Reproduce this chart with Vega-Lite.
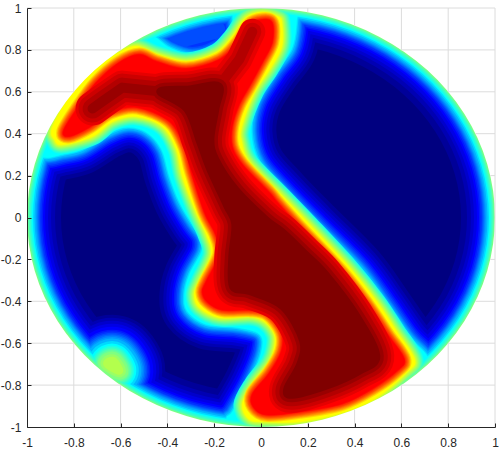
{"$schema":"https://vega.github.io/schema/vega-lite/v6.json","width":468,"height":419,"autosize":{"type":"none"},"padding":{"left":27,"top":8,"right":5,"bottom":23},"background":"white",
"config":{"view":{"stroke":null},"line":{"strokeJoin":"round","strokeCap":"round","interpolate":"cardinal-closed","tension":0}},
"datasets":{
"disk":[{"i":0,"x":1,"y":0},{"i":1,"x":0.9659,"y":0.2588},{"i":2,"x":0.866,"y":0.5},{"i":3,"x":0.7071,"y":0.7071},{"i":4,"x":0.5,"y":0.866},{"i":5,"x":0.2588,"y":0.9659},{"i":6,"x":0,"y":1},{"i":7,"x":-0.2588,"y":0.9659},{"i":8,"x":-0.5,"y":0.866},{"i":9,"x":-0.7071,"y":0.7071},{"i":10,"x":-0.866,"y":0.5},{"i":11,"x":-0.9659,"y":0.2588},{"i":12,"x":-1,"y":0},{"i":13,"x":-0.9659,"y":-0.2588},{"i":14,"x":-0.866,"y":-0.5},{"i":15,"x":-0.7071,"y":-0.7071},{"i":16,"x":-0.5,"y":-0.866},{"i":17,"x":-0.2588,"y":-0.9659},{"i":18,"x":0,"y":-1},{"i":19,"x":0.2588,"y":-0.9659},{"i":20,"x":0.5,"y":-0.866},{"i":21,"x":0.7071,"y":-0.7071},{"i":22,"x":0.866,"y":-0.5},{"i":23,"x":0.9659,"y":-0.2588}],
"outer":[{"i":0,"x":1.1282,"y":0},{"i":1,"x":1.0897,"y":0.2959},{"i":2,"x":0.977,"y":0.5716},{"i":3,"x":0.7978,"y":0.8084},{"i":4,"x":0.5641,"y":0.99},{"i":5,"x":0.292,"y":1.1042},{"i":6,"x":0,"y":1.1432},{"i":7,"x":-0.292,"y":1.1042},{"i":8,"x":-0.5641,"y":0.99},{"i":9,"x":-0.7978,"y":0.8084},{"i":10,"x":-0.977,"y":0.5716},{"i":11,"x":-1.0897,"y":0.2959},{"i":12,"x":-1.1282,"y":0},{"i":13,"x":-1.0897,"y":-0.2959},{"i":14,"x":-0.977,"y":-0.5716},{"i":15,"x":-0.7978,"y":-0.8084},{"i":16,"x":-0.5641,"y":-0.99},{"i":17,"x":-0.292,"y":-1.1042},{"i":18,"x":0,"y":-1.1432},{"i":19,"x":0.292,"y":-1.1042},{"i":20,"x":0.5641,"y":-0.99},{"i":21,"x":0.7978,"y":-0.8084},{"i":22,"x":0.977,"y":-0.5716},{"i":23,"x":1.0897,"y":-0.2959}],
"cyan":[{"i":0,"x":-0.925,"y":0.286},{"i":1,"x":-0.848,"y":0.301},{"i":2,"x":-0.763,"y":0.325},{"i":3,"x":-0.66,"y":0.396},{"i":4,"x":-0.575,"y":0.43},{"i":5,"x":-0.489,"y":0.406},{"i":6,"x":-0.425,"y":0.325},{"i":7,"x":-0.391,"y":0.196},{"i":8,"x":-0.348,"y":0.072},{"i":9,"x":-0.293,"y":-0.033},{"i":10,"x":-0.254,"y":-0.095},{"i":11,"x":-0.254,"y":-0.162},{"i":12,"x":-0.306,"y":-0.272},{"i":13,"x":-0.327,"y":-0.368},{"i":14,"x":-0.314,"y":-0.449},{"i":15,"x":-0.233,"y":-0.511},{"i":16,"x":-0.105,"y":-0.525},{"i":17,"x":-0.006,"y":-0.558},{"i":18,"x":0.002,"y":-0.64},{"i":19,"x":-0.049,"y":-0.783},{"i":20,"x":-0.122,"y":-0.926},{"i":21,"x":-0.147,"y":-0.964},{"i":22,"x":-0.113,"y":-1.084},{"i":23,"x":0.165,"y":-1.084},{"i":24,"x":0.464,"y":-1.012},{"i":25,"x":0.763,"y":-0.797},{"i":26,"x":0.712,"y":-0.663},{"i":27,"x":0.635,"y":-0.573},{"i":28,"x":0.536,"y":-0.415},{"i":29,"x":0.421,"y":-0.239},{"i":30,"x":0.237,"y":-0.033},{"i":31,"x":0.1,"y":0.124},{"i":32,"x":-0.006,"y":0.263},{"i":33,"x":-0.041,"y":0.406},{"i":34,"x":-0.019,"y":0.549},{"i":35,"x":0.058,"y":0.692},{"i":36,"x":0.13,"y":0.802},{"i":37,"x":0.152,"y":0.931},{"i":38,"x":0.143,"y":1.017},{"i":39,"x":-0.006,"y":1.064},{"i":40,"x":-0.113,"y":0.993},{"i":41,"x":-0.122,"y":0.883},{"i":42,"x":-0.19,"y":0.811},{"i":43,"x":-0.293,"y":0.778},{"i":44,"x":-0.391,"y":0.811},{"i":45,"x":-0.455,"y":0.864},{"i":46,"x":-0.519,"y":0.897},{"i":47,"x":-0.733,"y":0.754},{"i":48,"x":-0.904,"y":0.492},{"i":49,"x":-0.989,"y":0.325}],
"yellow":[{"i":0,"x":-0.891,"y":0.43},{"i":1,"x":-0.806,"y":0.597},{"i":2,"x":-0.703,"y":0.716},{"i":3,"x":-0.605,"y":0.788},{"i":4,"x":-0.532,"y":0.816},{"i":5,"x":-0.447,"y":0.778},{"i":6,"x":-0.318,"y":0.745},{"i":7,"x":-0.19,"y":0.788},{"i":8,"x":-0.122,"y":0.864},{"i":9,"x":-0.062,"y":0.955},{"i":10,"x":0.006,"y":0.979},{"i":11,"x":0.071,"y":0.959},{"i":12,"x":0.088,"y":0.931},{"i":13,"x":0.088,"y":0.816},{"i":14,"x":0.036,"y":0.706},{"i":15,"x":-0.028,"y":0.597},{"i":16,"x":-0.083,"y":0.434},{"i":17,"x":-0.083,"y":0.358},{"i":18,"x":-0.049,"y":0.263},{"i":19,"x":0.092,"y":0.1},{"i":20,"x":0.207,"y":-0.033},{"i":21,"x":0.378,"y":-0.239},{"i":22,"x":0.494,"y":-0.401},{"i":23,"x":0.579,"y":-0.544},{"i":24,"x":0.656,"y":-0.678},{"i":25,"x":0.622,"y":-0.74},{"i":26,"x":0.494,"y":-0.859},{"i":27,"x":0.348,"y":-0.931},{"i":28,"x":0.165,"y":-0.974},{"i":29,"x":0.024,"y":-0.974},{"i":30,"x":-0.049,"y":-0.964},{"i":31,"x":-0.079,"y":-0.893},{"i":32,"x":-0.036,"y":-0.797},{"i":33,"x":0.036,"y":-0.692},{"i":34,"x":0.058,"y":-0.621},{"i":35,"x":0.058,"y":-0.558},{"i":36,"x":0.015,"y":-0.496},{"i":37,"x":-0.049,"y":-0.473},{"i":38,"x":-0.177,"y":-0.477},{"i":39,"x":-0.263,"y":-0.43},{"i":40,"x":-0.284,"y":-0.368},{"i":41,"x":-0.263,"y":-0.305},{"i":42,"x":-0.212,"y":-0.177},{"i":43,"x":-0.233,"y":-0.081},{"i":44,"x":-0.276,"y":0.024},{"i":45,"x":-0.335,"y":0.196},{"i":46,"x":-0.361,"y":0.325},{"i":47,"x":-0.421,"y":0.434},{"i":48,"x":-0.532,"y":0.482},{"i":49,"x":-0.635,"y":0.458},{"i":50,"x":-0.72,"y":0.387},{"i":51,"x":-0.848,"y":0.348},{"i":52,"x":-0.882,"y":0.372}],
"red":[{"i":0,"x":-0.845,"y":0.411},{"i":1,"x":-0.789,"y":0.516},{"i":2,"x":-0.704,"y":0.645},{"i":3,"x":-0.606,"y":0.74},{"i":4,"x":-0.52,"y":0.778},{"i":5,"x":-0.447,"y":0.745},{"i":6,"x":-0.319,"y":0.711},{"i":7,"x":-0.178,"y":0.754},{"i":8,"x":-0.101,"y":0.835},{"i":9,"x":-0.05,"y":0.921},{"i":10,"x":0.006,"y":0.945},{"i":11,"x":0.048,"y":0.93},{"i":12,"x":0.048,"y":0.835},{"i":13,"x":0.006,"y":0.74},{"i":14,"x":-0.05,"y":0.625},{"i":15,"x":-0.093,"y":0.539},{"i":16,"x":-0.123,"y":0.435},{"i":17,"x":-0.123,"y":0.34},{"i":18,"x":-0.08,"y":0.254},{"i":19,"x":0.035,"y":0.121},{"i":20,"x":0.07,"y":0.073},{"i":21,"x":0.155,"y":-0.032},{"i":22,"x":0.343,"y":-0.256},{"i":23,"x":0.454,"y":-0.413},{"i":24,"x":0.54,"y":-0.556},{"i":25,"x":0.612,"y":-0.675},{"i":26,"x":0.582,"y":-0.732},{"i":27,"x":0.476,"y":-0.818},{"i":28,"x":0.347,"y":-0.889},{"i":29,"x":0.164,"y":-0.928},{"i":30,"x":0.023,"y":-0.942},{"i":31,"x":-0.033,"y":-0.904},{"i":32,"x":-0.037,"y":-0.842},{"i":33,"x":0.035,"y":-0.742},{"i":34,"x":0.087,"y":-0.637},{"i":35,"x":0.087,"y":-0.546},{"i":36,"x":0.027,"y":-0.461},{"i":37,"x":-0.05,"y":-0.442},{"i":38,"x":-0.165,"y":-0.442},{"i":39,"x":-0.229,"y":-0.404},{"i":40,"x":-0.251,"y":-0.356},{"i":41,"x":-0.234,"y":-0.304},{"i":42,"x":-0.178,"y":-0.175},{"i":43,"x":-0.195,"y":-0.08},{"i":45,"x":-0.242,"y":0.025},{"i":46,"x":-0.298,"y":0.216},{"i":47,"x":-0.328,"y":0.34},{"i":48,"x":-0.392,"y":0.459},{"i":49,"x":-0.529,"y":0.525},{"i":50,"x":-0.64,"y":0.502},{"i":51,"x":-0.734,"y":0.43},{"i":52,"x":-0.819,"y":0.387}],
"core":[{"i":0,"x":-0.435,"y":0.602},{"i":1,"x":-0.306,"y":0.616},{"i":2,"x":-0.178,"y":0.63},{"i":3,"x":-0.191,"y":0.516},{"i":4,"x":-0.212,"y":0.373},{"i":5,"x":-0.191,"y":0.278},{"i":6,"x":-0.106,"y":0.135},{"i":7,"x":0.023,"y":-0.008},{"i":8,"x":0.091,"y":-0.065},{"i":9,"x":0.185,"y":-0.165},{"i":10,"x":0.279,"y":-0.27},{"i":11,"x":0.407,"y":-0.461},{"i":12,"x":0.497,"y":-0.661},{"i":13,"x":0.42,"y":-0.737},{"i":14,"x":0.279,"y":-0.808},{"i":15,"x":0.134,"y":-0.851},{"i":16,"x":0.108,"y":-0.818},{"i":17,"x":0.164,"y":-0.699},{"i":18,"x":0.176,"y":-0.589},{"i":19,"x":0.091,"y":-0.427},{"i":20,"x":-0.05,"y":-0.356},{"i":21,"x":-0.123,"y":-0.332},{"i":22,"x":-0.127,"y":-0.189},{"i":23,"x":-0.114,"y":-0.032},{"i":24,"x":-0.148,"y":0.054},{"i":25,"x":-0.221,"y":0.23},{"i":26,"x":-0.264,"y":0.359},{"i":27,"x":-0.319,"y":0.516}],
"arm":[{"i":0,"x":-0.72,"y":0.52},{"i":1,"x":-0.67,"y":0.56},{"i":2,"x":-0.593,"y":0.62},{"i":3,"x":-0.435,"y":0.602}],
"neck":[{"i":0,"x":-0.178,"y":0.63},{"i":1,"x":-0.093,"y":0.754},{"i":2,"x":-0.037,"y":0.887}],
"blob":[{"i":0,"x":-0.657,"y":-0.699},{"i":1,"x":-0.631,"y":-0.685},{"i":2,"x":-0.606,"y":-0.732}],
"cap":[{"i":0,"x":-0.358,"y":0.849},{"i":1,"x":-0.191,"y":0.897}],
"gridv":[{"x":-0.8,"y":0.6,"y2":1},{"x":-0.8,"y":-0.6,"y2":-1},{"x":-0.6,"y":0.8,"y2":1},{"x":-0.6,"y":-0.8,"y2":-1},{"x":-0.4,"y":0.9165,"y2":1},{"x":-0.4,"y":-0.9165,"y2":-1},{"x":-0.2,"y":0.98,"y2":1},{"x":-0.2,"y":-0.98,"y2":-1},{"x":0.2,"y":0.98,"y2":1},{"x":0.2,"y":-0.98,"y2":-1},{"x":0.4,"y":0.9165,"y2":1},{"x":0.4,"y":-0.9165,"y2":-1},{"x":0.6,"y":0.8,"y2":1},{"x":0.6,"y":-0.8,"y2":-1},{"x":0.8,"y":0.6,"y2":1},{"x":0.8,"y":-0.6,"y2":-1},{"x":1,"y":-1,"y2":1}],
"gridh":[{"y":0.8,"x":-1,"x2":-0.6},{"y":0.8,"x":0.6,"x2":1},{"y":0.6,"x":-1,"x2":-0.8},{"y":0.6,"x":0.8,"x2":1},{"y":0.4,"x":-1,"x2":-0.9165},{"y":0.4,"x":0.9165,"x2":1},{"y":0.2,"x":-1,"x2":-0.98},{"y":0.2,"x":0.98,"x2":1},{"y":-0.2,"x":-1,"x2":-0.98},{"y":-0.2,"x":0.98,"x2":1},{"y":-0.4,"x":-1,"x2":-0.9165},{"y":-0.4,"x":0.9165,"x2":1},{"y":-0.6,"x":-1,"x2":-0.8},{"y":-0.6,"x":0.8,"x2":1},{"y":-0.8,"x":-1,"x2":-0.6},{"y":-0.8,"x":0.6,"x2":1},{"y":1,"x":-1,"x2":1}]
},
"encoding":{
"x":{"field":"x","type":"quantitative","scale":{"domain":[-1,1],"nice":false},"axis":{"title":null,"grid":false,"zindex":1,"values":[-1,-0.8,-0.6,-0.4,-0.2,0,0.2,0.4,0.6,0.8,1],"labelExpr":"''+datum.value","labelFont":"Liberation Sans","labelFontSize":12,"labelColor":"#262626","domainColor":"#262626","tickColor":"#262626","tickSize":-4,"labelPadding":14,"labelOverlap":false,"labelFlush":false}},
"y":{"field":"y","type":"quantitative","scale":{"domain":[-1,1],"nice":false},"axis":{"title":null,"grid":false,"zindex":1,"values":[-1,-0.8,-0.6,-0.4,-0.2,0,0.2,0.4,0.6,0.8,1],"labelExpr":"''+datum.value","labelFont":"Liberation Sans","labelFontSize":12,"labelColor":"#262626","domainColor":"#262626","tickColor":"#262626","tickSize":-4,"labelPadding":10,"labelOverlap":false,"labelFlush":false}},
"order":{"field":"i","type":"quantitative"}
},
"layer":[
{"data":{"name":"disk"},"mark":{"type":"line","clip":true,"fill":"#000080","stroke":"#000080","strokeWidth":1}},
{"data":{"name":"disk"},"mark":{"type":"line","clip":true,"stroke":"#000099","strokeWidth":68}},
{"data":{"name":"cyan"},"mark":{"type":"line","clip":true,"stroke":"#000099","strokeWidth":50}},
{"data":{"name":"blob"},"mark":{"type":"line","clip":true,"stroke":"#000099","strokeWidth":92}},
{"data":{"name":"disk"},"mark":{"type":"line","clip":true,"stroke":"#0000b3","strokeWidth":56}},
{"data":{"name":"cyan"},"mark":{"type":"line","clip":true,"stroke":"#0000b3","strokeWidth":42}},
{"data":{"name":"blob"},"mark":{"type":"line","clip":true,"stroke":"#0000b3","strokeWidth":86}},
{"data":{"name":"disk"},"mark":{"type":"line","clip":true,"stroke":"#0000cc","strokeWidth":48}},
{"data":{"name":"cyan"},"mark":{"type":"line","clip":true,"stroke":"#0000cc","strokeWidth":36}},
{"data":{"name":"blob"},"mark":{"type":"line","clip":true,"stroke":"#0000cc","strokeWidth":80}},
{"data":{"name":"disk"},"mark":{"type":"line","clip":true,"stroke":"#0000e6","strokeWidth":42}},
{"data":{"name":"cyan"},"mark":{"type":"line","clip":true,"stroke":"#0000e6","strokeWidth":30}},
{"data":{"name":"blob"},"mark":{"type":"line","clip":true,"stroke":"#0000e6","strokeWidth":74}},
{"data":{"name":"disk"},"mark":{"type":"line","clip":true,"stroke":"#0000ff","strokeWidth":36}},
{"data":{"name":"cyan"},"mark":{"type":"line","clip":true,"stroke":"#0000ff","strokeWidth":25}},
{"data":{"name":"blob"},"mark":{"type":"line","clip":true,"stroke":"#0000ff","strokeWidth":68}},
{"data":{"name":"cap"},"mark":{"type":"line","clip":true,"interpolate":"linear","stroke":"#0000ff","strokeWidth":46}},
{"data":{"name":"disk"},"mark":{"type":"line","clip":true,"stroke":"#001aff","strokeWidth":32}},
{"data":{"name":"cyan"},"mark":{"type":"line","clip":true,"stroke":"#001aff","strokeWidth":21}},
{"data":{"name":"blob"},"mark":{"type":"line","clip":true,"stroke":"#001aff","strokeWidth":62}},
{"data":{"name":"cap"},"mark":{"type":"line","clip":true,"interpolate":"linear","stroke":"#001aff","strokeWidth":40}},
{"data":{"name":"disk"},"mark":{"type":"line","clip":true,"stroke":"#0033ff","strokeWidth":29}},
{"data":{"name":"cyan"},"mark":{"type":"line","clip":true,"stroke":"#0033ff","strokeWidth":18}},
{"data":{"name":"blob"},"mark":{"type":"line","clip":true,"stroke":"#0033ff","strokeWidth":59}},
{"data":{"name":"cap"},"mark":{"type":"line","clip":true,"interpolate":"linear","stroke":"#0033ff","strokeWidth":30}},
{"data":{"name":"disk"},"mark":{"type":"line","clip":true,"stroke":"#004dff","strokeWidth":26}},
{"data":{"name":"cyan"},"mark":{"type":"line","clip":true,"stroke":"#004dff","strokeWidth":15}},
{"data":{"name":"blob"},"mark":{"type":"line","clip":true,"stroke":"#004dff","strokeWidth":56}},
{"data":{"name":"cap"},"mark":{"type":"line","clip":true,"interpolate":"linear","stroke":"#004dff","strokeWidth":18}},
{"data":{"name":"disk"},"mark":{"type":"line","clip":true,"stroke":"#0066ff","strokeWidth":24}},
{"data":{"name":"cyan"},"mark":{"type":"line","clip":true,"stroke":"#0066ff","strokeWidth":12}},
{"data":{"name":"blob"},"mark":{"type":"line","clip":true,"stroke":"#0066ff","strokeWidth":53}},
{"data":{"name":"disk"},"mark":{"type":"line","clip":true,"stroke":"#0080ff","strokeWidth":22}},
{"data":{"name":"cyan"},"mark":{"type":"line","clip":true,"stroke":"#0080ff","strokeWidth":10}},
{"data":{"name":"blob"},"mark":{"type":"line","clip":true,"stroke":"#0080ff","strokeWidth":50}},
{"data":{"name":"disk"},"mark":{"type":"line","clip":true,"stroke":"#0099ff","strokeWidth":20}},
{"data":{"name":"cyan"},"mark":{"type":"line","clip":true,"stroke":"#0099ff","strokeWidth":8}},
{"data":{"name":"blob"},"mark":{"type":"line","clip":true,"stroke":"#0099ff","strokeWidth":47}},
{"data":{"name":"disk"},"mark":{"type":"line","clip":true,"stroke":"#00b3ff","strokeWidth":18}},
{"data":{"name":"cyan"},"mark":{"type":"line","clip":true,"stroke":"#00b3ff","strokeWidth":6}},
{"data":{"name":"blob"},"mark":{"type":"line","clip":true,"stroke":"#00b3ff","strokeWidth":44}},
{"data":{"name":"disk"},"mark":{"type":"line","clip":true,"stroke":"#00d9ff","strokeWidth":15}},
{"data":{"name":"cyan"},"mark":{"type":"line","clip":true,"stroke":"#00d9ff","strokeWidth":3}},
{"data":{"name":"blob"},"mark":{"type":"line","clip":true,"stroke":"#00d9ff","strokeWidth":39}},
{"data":{"name":"disk"},"mark":{"type":"line","clip":true,"stroke":"#00ffff","strokeWidth":12}},
{"data":{"name":"cyan"},"mark":{"type":"line","clip":true,"fill":"#00ffff","stroke":"#00ffff","strokeWidth":0.5}},
{"data":{"name":"blob"},"mark":{"type":"line","clip":true,"stroke":"#00ffff","strokeWidth":34}},
{"data":{"name":"disk"},"mark":{"type":"line","clip":true,"stroke":"#1affe6","strokeWidth":10}},
{"data":{"name":"yellow"},"mark":{"type":"line","clip":true,"stroke":"#1affe6","strokeWidth":18}},
{"data":{"name":"blob"},"mark":{"type":"line","clip":true,"stroke":"#1affe6","strokeWidth":30}},
{"data":{"name":"disk"},"mark":{"type":"line","clip":true,"stroke":"#33ffcc","strokeWidth":7.5}},
{"data":{"name":"yellow"},"mark":{"type":"line","clip":true,"stroke":"#33ffcc","strokeWidth":16}},
{"data":{"name":"blob"},"mark":{"type":"line","clip":true,"stroke":"#33ffcc","strokeWidth":27}},
{"data":{"name":"disk"},"mark":{"type":"line","clip":true,"stroke":"#4dffb3","strokeWidth":5}},
{"data":{"name":"yellow"},"mark":{"type":"line","clip":true,"stroke":"#4dffb3","strokeWidth":14}},
{"data":{"name":"blob"},"mark":{"type":"line","clip":true,"stroke":"#4dffb3","strokeWidth":24}},
{"data":{"name":"disk"},"mark":{"type":"line","clip":true,"stroke":"#66ff99","strokeWidth":3}},
{"data":{"name":"yellow"},"mark":{"type":"line","clip":true,"stroke":"#66ff99","strokeWidth":12}},
{"data":{"name":"blob"},"mark":{"type":"line","clip":true,"stroke":"#66ff99","strokeWidth":21}},
{"data":{"name":"disk"},"mark":{"type":"line","clip":true,"stroke":"#80ff80","strokeWidth":1.5}},
{"data":{"name":"yellow"},"mark":{"type":"line","clip":true,"stroke":"#80ff80","strokeWidth":10}},
{"data":{"name":"blob"},"mark":{"type":"line","clip":true,"stroke":"#80ff80","strokeWidth":18}},
{"data":{"name":"yellow"},"mark":{"type":"line","clip":true,"stroke":"#99ff66","strokeWidth":8}},
{"data":{"name":"blob"},"mark":{"type":"line","clip":true,"stroke":"#99ff66","strokeWidth":13}},
{"data":{"name":"yellow"},"mark":{"type":"line","clip":true,"stroke":"#b3ff4d","strokeWidth":6}},
{"data":{"name":"blob"},"mark":{"type":"line","clip":true,"stroke":"#b3ff4d","strokeWidth":8}},
{"data":{"name":"yellow"},"mark":{"type":"line","clip":true,"stroke":"#ccff33","strokeWidth":4}},
{"data":{"name":"yellow"},"mark":{"type":"line","clip":true,"stroke":"#e6ff1a","strokeWidth":2}},
{"data":{"name":"yellow"},"mark":{"type":"line","clip":true,"fill":"#ffff00","stroke":"#ffff00","strokeWidth":0.5}},
{"data":{"name":"red"},"mark":{"type":"line","clip":true,"stroke":"#ffd900","strokeWidth":14}},
{"data":{"name":"red"},"mark":{"type":"line","clip":true,"stroke":"#ffb300","strokeWidth":12}},
{"data":{"name":"red"},"mark":{"type":"line","clip":true,"stroke":"#ff9900","strokeWidth":10.5}},
{"data":{"name":"red"},"mark":{"type":"line","clip":true,"stroke":"#ff8000","strokeWidth":9}},
{"data":{"name":"red"},"mark":{"type":"line","clip":true,"stroke":"#ff6600","strokeWidth":7.5}},
{"data":{"name":"red"},"mark":{"type":"line","clip":true,"stroke":"#ff4d00","strokeWidth":6}},
{"data":{"name":"red"},"mark":{"type":"line","clip":true,"stroke":"#ff3300","strokeWidth":4}},
{"data":{"name":"red"},"mark":{"type":"line","clip":true,"stroke":"#ff1a00","strokeWidth":2}},
{"data":{"name":"red"},"mark":{"type":"line","clip":true,"fill":"#ff0000","stroke":"#ff0000","strokeWidth":0.5}},
{"data":{"name":"core"},"mark":{"type":"line","clip":true,"stroke":"#e60000","strokeWidth":34}},
{"data":{"name":"arm"},"mark":{"type":"line","clip":true,"interpolate":"linear","stroke":"#e60000","strokeWidth":34}},
{"data":{"name":"neck"},"mark":{"type":"line","clip":true,"interpolate":"linear","stroke":"#e60000","strokeWidth":26}},
{"data":{"name":"core"},"mark":{"type":"line","clip":true,"stroke":"#cc0000","strokeWidth":28}},
{"data":{"name":"arm"},"mark":{"type":"line","clip":true,"interpolate":"linear","stroke":"#cc0000","strokeWidth":28}},
{"data":{"name":"neck"},"mark":{"type":"line","clip":true,"interpolate":"linear","stroke":"#cc0000","strokeWidth":18}},
{"data":{"name":"core"},"mark":{"type":"line","clip":true,"stroke":"#b30000","strokeWidth":21}},
{"data":{"name":"arm"},"mark":{"type":"line","clip":true,"interpolate":"linear","stroke":"#b30000","strokeWidth":20}},
{"data":{"name":"neck"},"mark":{"type":"line","clip":true,"interpolate":"linear","stroke":"#b30000","strokeWidth":10}},
{"data":{"name":"core"},"mark":{"type":"line","clip":true,"stroke":"#990000","strokeWidth":13}},
{"data":{"name":"arm"},"mark":{"type":"line","clip":true,"interpolate":"linear","stroke":"#990000","strokeWidth":10}},
{"data":{"name":"core"},"mark":{"type":"line","clip":true,"fill":"#800000","stroke":"#800000","strokeWidth":6}},
{"data":{"name":"outer"},"mark":{"type":"line","clip":true,"stroke":"#ffffff","strokeWidth":60}},
{"data":{"name":"gridv"},"mark":{"type":"rule","color":"#dcdcdc","strokeWidth":1},"encoding":{"y2":{"field":"y2"},"order":null}},
{"data":{"name":"gridh"},"mark":{"type":"rule","color":"#dcdcdc","strokeWidth":1},"encoding":{"x2":{"field":"x2"},"order":null}}
]}
